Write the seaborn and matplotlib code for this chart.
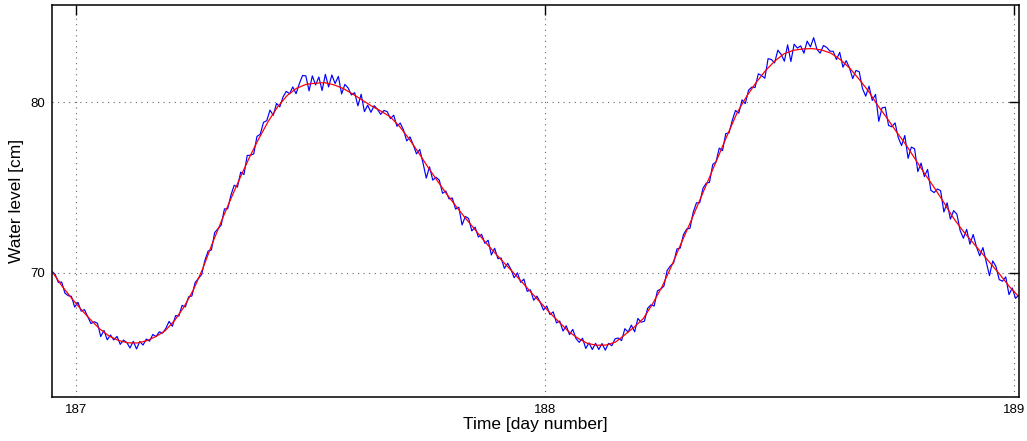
import numpy as np
import pandas as pd
import seaborn as sns
import matplotlib.pyplot as plt

# smoothed water level (red), sampled every 0.02 day
SMOOTH_START = 186.95
SMOOTH_STEP = 0.02
smooth_level = [
    70.0, 69.2, 68.5, 67.85, 67.25, 66.7, 66.28, 66.02, 65.88, 65.87,
    66.0, 66.25, 66.6, 67.2, 68.0, 69.0, 70.25, 71.7, 73.05, 74.35,
    75.6, 76.8, 77.9, 78.9, 79.75, 80.4, 80.82, 81.05, 81.12, 81.15,
    81.02, 80.8, 80.48, 80.13, 79.78, 79.48, 79.14, 78.57, 77.85, 77.05,
    76.2, 75.4, 74.62, 73.9, 73.2, 72.55, 71.87, 71.25, 70.65, 70.07,
    69.47, 68.85, 68.25, 67.65, 67.1, 66.55, 66.15, 65.85, 65.74, 65.75,
    65.92, 66.35, 66.8, 67.32, 68.2, 69.2, 70.4, 71.7, 72.95, 74.25,
    75.55, 76.85, 78.15, 79.4, 80.35, 81.15, 81.85, 82.42, 82.85, 83.05,
    83.13, 83.15, 83.07, 82.88, 82.5, 82.0, 81.35, 80.65, 79.8, 79.05,
    78.25, 77.5, 76.65, 75.8, 75.0, 74.15, 73.25, 72.5, 71.85, 71.2,
    70.55, 69.9, 69.2, 68.6,
]

# measured water level (blue), one sample every 10 minutes
RAW_START = 186.948
RAW_STEP = 1 / 144
raw_level = [
    70.08, 69.90, 69.42, 69.45, 68.80, 68.65, 68.61, 67.98, 68.26, 67.74, 67.83, 67.42,
    67.01, 67.12, 67.03, 66.25, 66.61, 66.06, 66.34, 66.05, 66.26, 65.79, 66.04, 65.90,
    65.58, 65.97, 65.52, 65.96, 65.75, 66.10, 65.98, 66.37, 66.25, 66.53, 66.45, 66.73,
    67.14, 66.85, 67.48, 67.45, 68.08, 67.99, 68.58, 68.63, 69.42, 69.66, 69.89, 70.72,
    71.27, 71.33, 72.35, 72.57, 72.79, 73.74, 73.75, 74.55, 75.13, 75.02, 75.90, 75.76,
    76.88, 76.89, 76.97, 78.00, 78.12, 78.82, 78.92, 79.54, 79.23, 79.93, 79.73, 80.31,
    80.64, 80.50, 80.90, 80.50, 81.09, 81.57, 81.55, 80.67, 81.55, 81.02, 81.48, 80.69,
    81.64, 80.90, 81.60, 81.10, 81.52, 80.49, 81.05, 80.84, 80.43, 80.56, 79.79, 80.47,
    79.45, 79.83, 79.41, 79.80, 79.59, 79.29, 79.52, 79.45, 79.04, 79.24, 78.59, 78.78,
    78.38, 77.73, 77.97, 77.50, 76.97, 77.23, 76.44, 75.55, 76.21, 75.43, 75.60, 75.43,
    74.66, 74.79, 74.33, 74.38, 73.73, 73.84, 72.80, 73.30, 73.18, 72.45, 72.67, 72.09,
    72.25, 71.72, 71.90, 71.04, 71.43, 70.82, 70.86, 70.25, 70.55, 70.20, 69.70, 69.99,
    69.43, 69.62, 68.90, 68.99, 68.38, 68.62, 68.26, 67.80, 68.04, 67.54, 67.70, 67.05,
    67.16, 66.57, 66.88, 66.36, 66.67, 66.13, 65.91, 66.15, 65.55, 65.88, 65.49, 65.85,
    65.49, 65.84, 65.45, 65.85, 65.71, 66.12, 66.16, 66.01, 66.71, 66.51, 66.92, 66.53,
    67.31, 67.09, 67.15, 67.91, 68.11, 68.04, 68.93, 69.03, 69.21, 70.13, 70.40, 70.58,
    71.39, 71.44, 72.23, 72.56, 72.60, 73.54, 74.10, 74.10, 74.95, 75.25, 75.30, 76.35,
    76.50, 77.31, 77.16, 78.16, 78.20, 78.94, 79.52, 79.36, 80.14, 79.92, 80.71, 80.89,
    80.87, 81.67, 81.57, 81.41, 82.56, 82.51, 82.31, 83.06, 82.81, 82.41, 83.37, 82.39,
    83.41, 83.18, 83.31, 82.88, 83.59, 83.25, 83.79, 83.11, 82.88, 83.33, 83.22, 83.00,
    82.99, 82.51, 82.93, 82.06, 82.44, 82.02, 81.39, 81.87, 81.79, 80.80, 80.36, 80.95,
    80.11, 80.46, 78.88, 79.67, 79.71, 78.64, 78.56, 78.79, 77.92, 77.46, 78.05, 76.71,
    77.37, 77.27, 75.93, 76.43, 75.64, 76.06, 74.83, 74.70, 74.91, 74.81, 73.56, 74.10,
    73.14, 73.64, 73.43, 72.47, 72.02, 72.54, 71.67, 72.24, 71.52, 70.99, 71.47, 70.64,
    69.82, 70.69, 70.36, 69.59, 69.50, 69.75, 68.71, 69.10, 68.49, 68.68,
]

x_ticks = [187, 188, 189]
y_ticks = [70, 80]

raw_df = pd.DataFrame({
    "day": RAW_START + RAW_STEP * np.arange(len(raw_level)),
    "level": raw_level,
})
smooth_df = pd.DataFrame({
    "day": SMOOTH_START + SMOOTH_STEP * np.arange(len(smooth_level)),
    "level": smooth_level,
})

sns.set_theme(style="white")
plt.rcParams["font.family"] = ["Liberation Sans", "DejaVu Sans"]
plt.rcParams["text.color"] = "black"
plt.rcParams["axes.labelcolor"] = "black"

fig = plt.figure(figsize=(10.27, 4.41), dpi=100)
ax = fig.add_axes([0.0503, 0.1005, 0.9419, 0.8882])

sns.lineplot(data=raw_df, x="day", y="level", ax=ax, color="#0000ff",
             linewidth=0.85, sort=False, estimator=None)
sns.lineplot(data=smooth_df, x="day", y="level", ax=ax, color="#ff0000",
             linewidth=0.9, sort=False, estimator=None)

ax.set_xlim(186.9475, 189.011)
ax.set_ylim(62.72, 85.71)
ax.set_xticks(x_ticks)
ax.set_yticks(y_ticks)
ax.grid(True, color="#666666", linestyle=(0, (1, 4)), linewidth=0.8)

for side in ax.spines.values():
    side.set_color("black")
    side.set_linewidth(1.1)
ax.tick_params(direction="in", top=True, right=True, length=7, width=1,
               labelsize=9.5, colors="black", pad=5)

ax.set_xlabel("Time [day number]", fontsize=12.5, labelpad=1, color="black")
ax.set_ylabel("Water level [cm]", fontsize=12.5, labelpad=4, color="black")

fig.savefig("out.png", dpi=100)
